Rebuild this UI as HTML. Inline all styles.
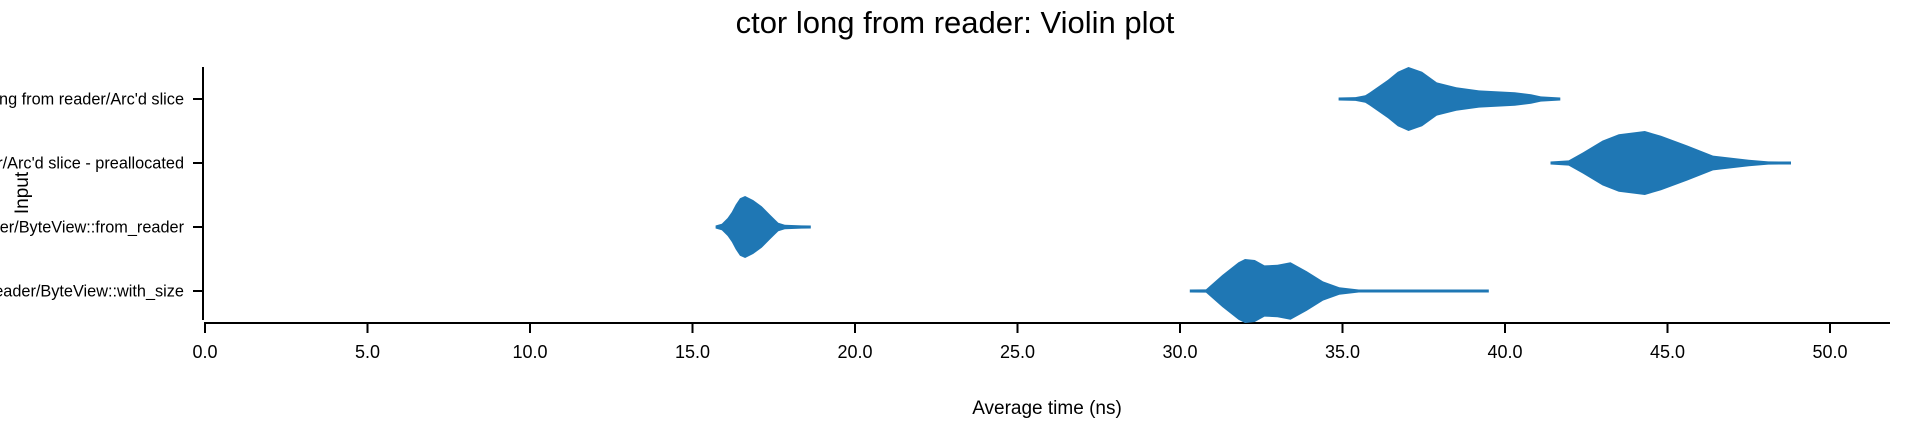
<!DOCTYPE html>
<html><head><meta charset="utf-8"><style>
html,body{margin:0;padding:0;background:#fff;}
svg{display:block;font-family:"Liberation Sans",Arial,sans-serif;}
</style></head><body>
<svg id="chart" width="1924" height="443" viewBox="0 0 1924 443">
<text x="955" y="33" font-size="31" text-anchor="middle">ctor long from reader: Violin plot</text>
<g id="yaxis"></g>
<g id="xaxis"></g>
<g id="violins"></g>
<text x="1047" y="414" font-size="19" text-anchor="middle">Average time (ns)</text>
<text transform="translate(28,193) rotate(-90)" font-size="19" text-anchor="middle">Input</text>
</svg>
<script>
const categories = ["ctor long from reader/Arc'd slice","ctor long from reader/Arc'd slice - preallocated","ctor long from reader/ByteView::from_reader","ctor long from reader/ByteView::with_size"];
const xTicks = [0,5,10,15,20,25,30,35,40,45,50];
const xTickLabels = ["0.0","5.0","10.0","15.0","20.0","25.0","30.0","35.0","40.0","45.0","50.0"];
const violin0X = [34.88,35.4,35.7,35.83,36.4,36.7,37.03,37.45,37.9,38.5,39.2,40.3,40.8,41.1,41.7];
const violin0W = [0.02,0.06,0.12,0.2,0.6,0.85,1.0,0.85,0.52,0.37,0.27,0.21,0.15,0.08,0.03];
const violin1X = [41.4,41.96,42.4,43.0,43.5,44.3,44.8,45.6,46.4,47.5,48.1,48.8];
const violin1W = [0.02,0.08,0.33,0.7,0.9,1.0,0.85,0.55,0.23,0.1,0.05,0.02];
const violin2X = [15.71,15.9,16.08,16.21,16.33,16.46,16.62,16.87,17.13,17.38,17.64,17.84,18.35,18.64];
const violin2W = [0.03,0.1,0.28,0.47,0.7,0.9,0.97,0.84,0.65,0.39,0.13,0.07,0.05,0.03];
const violin3X = [30.3,30.8,31.3,31.8,32.0,32.3,32.6,33.0,33.4,33.9,34.4,34.9,35.4,35.5,39.5];
const violin3W = [0.02,0.05,0.5,0.9,1.0,0.97,0.8,0.82,0.9,0.62,0.3,0.12,0.06,0.03,0.03];

const NS='http://www.w3.org/2000/svg';
const X0=205, PXU=32.5, AXIS_Y=323, Y_TOP=67, Y_BOT=320, ROW0=99, ROWH=64, HALF=32;
const xs = v => X0 + v*PXU;
const ys = i => ROW0 + i*ROWH;
function mk(tag, attrs, parent){const e=document.createElementNS(NS,tag);for(const k in attrs)e.setAttribute(k,attrs[k]);parent.appendChild(e);return e;}

const yaxis=document.getElementById('yaxis');
const yl=mk('line',{x1:203,y1:Y_TOP,x2:203,y2:Y_BOT,stroke:'#000','stroke-width':2},yaxis);


categories.forEach((c,i)=>{
  const t=mk('line',{x1:193,y1:ys(i),x2:203,y2:ys(i),stroke:'#000','stroke-width':2},yaxis);
  
  
  const lb=mk('text',{x:184,y:ys(i)+5.5,'font-size':16.3,'text-anchor':'end'},yaxis);
  lb.textContent=c;
  
  
});

const xaxis=document.getElementById('xaxis');
const xl=mk('line',{x1:204,y1:AXIS_Y,x2:1890,y2:AXIS_Y,stroke:'#000','stroke-width':2},xaxis);


xTicks.forEach((v,i)=>{
  const t=mk('line',{x1:xs(v),y1:AXIS_Y,x2:xs(v),y2:AXIS_Y+10,stroke:'#000','stroke-width':2},xaxis);
  
  
  const lb=mk('text',{x:xs(v),y:358,'font-size':18,'text-anchor':'middle'},xaxis);
  lb.textContent=xTickLabels[i];
  
  
});

const vg=document.getElementById('violins');
const series=[[violin0X,violin0W],[violin1X,violin1W],[violin2X,violin2W],[violin3X,violin3W]];
series.forEach((s,i)=>{
  const [X,W]=s, cy=ys(i);
  const top=X.map((v,j)=>xs(v).toFixed(1)+','+(cy-Math.max(W[j]*HALF,1.5)).toFixed(1));
  const bot=X.map((v,j)=>xs(v).toFixed(1)+','+(cy+Math.max(W[j]*HALF,1.5)).toFixed(1)).reverse();
  const p=mk('polygon',{points:top.concat(bot).join(' '),fill:'#1f77b4'},vg);
  
  
});
</script>
</body></html>
